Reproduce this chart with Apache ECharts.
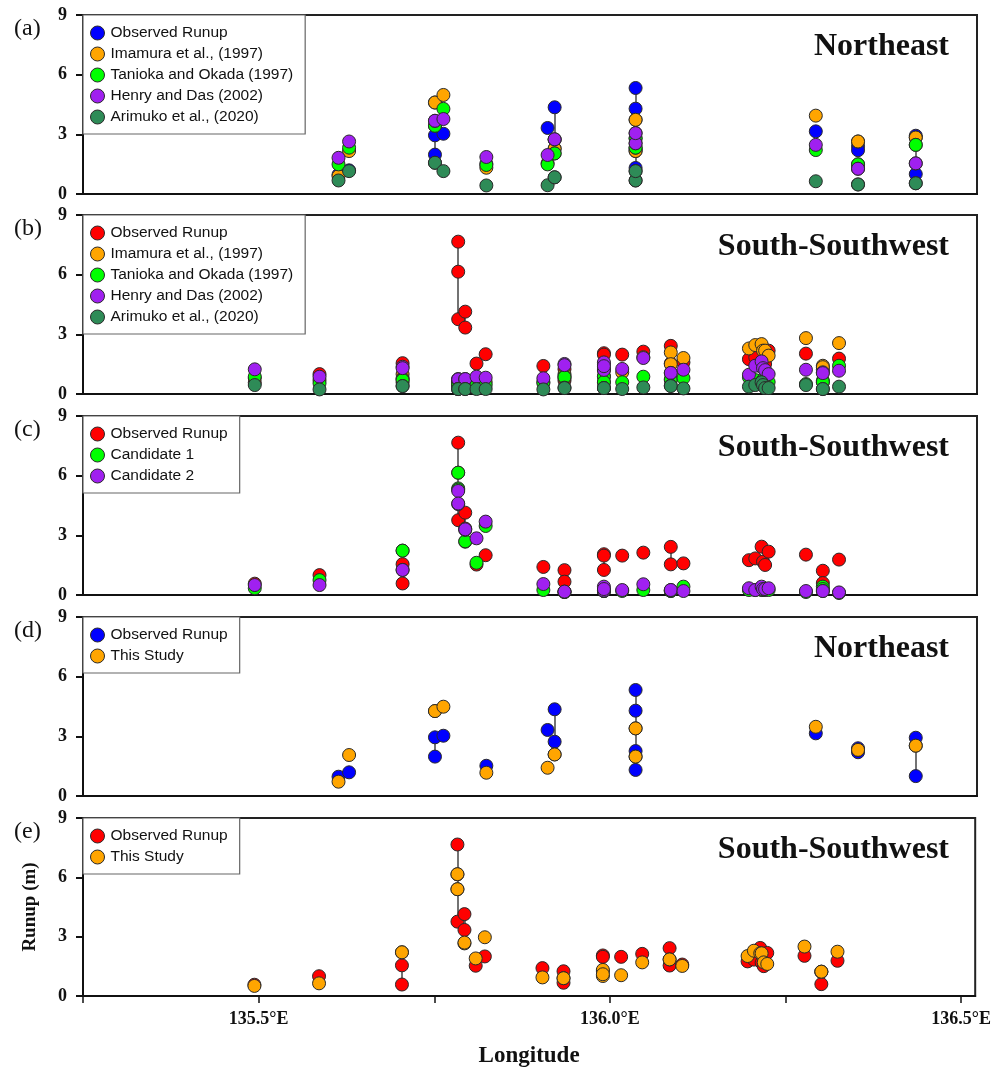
<!DOCTYPE html>
<html>
<head>
<meta charset="utf-8">
<script src="https://cdn.jsdelivr.net/npm/echarts@6/dist/echarts.min.js"></script>
<style>
html,body{margin:0;padding:0;background:#fff;}
#chart{width:994px;height:1069px;}
</style>
</head>
<body>
<div id="chart"></div>
<script>
// ---------- DATA ----------
// Northeast stations (longitude, deg E)
const neLon = [135.613,135.628,135.750,135.750,135.762,135.823,135.910,135.920,135.920,136.035,136.035,136.035,136.035,136.291,136.351,136.351,136.433,136.433];
const neObs = [0.97,1.19,2.95,1.98,3.03,1.52,3.32,4.36,2.73,5.33,4.29,2.26,1.31,3.15,2.40,2.20,2.93,1.00];
const neImamura = [0.90,2.16,4.60,4.60,4.98,1.32,1.55,2.28,2.28,3.73,2.16,2.16,3.73,3.94,2.64,2.64,2.84,2.84];
const neTanioka = [1.49,2.33,3.43,3.43,4.28,1.46,1.49,2.04,2.04,2.80,2.33,2.33,2.80,2.21,1.49,1.49,2.47,2.47];
const neHenry = [1.82,2.64,3.68,3.68,3.77,1.86,1.96,2.75,2.75,3.06,2.55,2.55,3.06,2.47,1.27,1.27,1.54,1.54];
const neArimuko = [0.68,1.15,1.57,1.57,1.15,0.43,0.44,0.84,0.84,1.15,0.68,0.68,1.15,0.64,0.48,0.48,0.54,0.54];
const neThisStudy = [0.72,2.06,4.27,4.27,4.49,1.17,1.42,2.09,2.09,3.40,1.98,1.98,3.40,3.48,2.32,2.32,2.53,2.53];

// South-Southwest stations
const sswLon = [135.494,135.586,135.704,135.704,135.783,135.783,135.783,135.793,135.793,135.809,135.822,135.904,135.934,135.934,135.990,135.990,135.990,136.016,136.046,136.085,136.085,136.103,136.196,136.205,136.214,136.216,136.219,136.224,136.277,136.301,136.301,136.324];
const sswObs = [0.57,1.00,1.55,0.58,7.66,6.15,3.76,4.14,3.34,1.53,2.00,1.41,1.25,0.67,2.05,1.98,1.26,1.98,2.13,2.42,1.54,1.59,1.75,1.84,2.43,1.68,1.51,2.18,2.03,1.22,0.60,1.78];
const sswImamura = [0.80,0.70,1.00,0.80,0.60,0.60,0.60,0.60,0.60,0.60,0.60,0.60,1.00,0.80,1.50,1.20,0.90,1.09,1.85,2.09,1.50,1.81,2.29,2.46,2.51,2.18,2.18,1.93,2.81,1.42,1.35,2.56];
const sswTanioka = [0.87,0.54,0.74,0.70,0.45,0.45,0.45,0.45,0.45,0.45,0.45,0.55,0.90,0.85,0.87,0.59,0.60,0.59,0.87,0.75,0.70,0.80,0.84,0.70,0.60,0.70,0.70,0.60,0.50,0.67,0.60,1.42];
const sswHenry = [1.24,0.87,1.37,1.30,0.74,0.74,0.74,0.75,0.75,0.87,0.82,0.79,1.51,1.45,1.59,1.21,1.40,1.26,1.81,1.06,1.06,1.22,0.97,1.42,1.64,1.30,1.20,1.00,1.22,1.09,1.05,1.17];
const sswArimuko = [0.45,0.23,0.40,0.40,0.25,0.25,0.25,0.25,0.25,0.25,0.25,0.23,0.32,0.30,0.30,0.30,0.30,0.25,0.33,0.42,0.40,0.28,0.37,0.45,0.59,0.45,0.30,0.30,0.45,0.25,0.25,0.37];
const sswCand1 = [0.34,0.75,2.23,2.23,6.15,5.36,5.30,2.68,2.70,1.62,3.47,0.25,0.15,0.15,0.20,0.20,0.20,0.20,0.25,0.20,0.20,0.42,0.25,0.25,0.25,0.25,0.25,0.25,0.15,0.42,0.30,0.10];
const sswCand2 = [0.50,0.50,1.26,1.26,5.23,4.57,4.60,3.27,3.30,2.85,3.69,0.55,0.17,0.17,0.42,0.22,0.30,0.25,0.54,0.25,0.25,0.20,0.34,0.25,0.42,0.30,0.30,0.34,0.20,0.20,0.20,0.13];
const sswThisStudy = [0.51,0.64,2.21,2.21,6.16,5.40,5.40,2.66,2.70,1.90,2.97,0.94,0.90,0.90,1.32,1.01,1.10,1.05,1.70,1.85,1.85,1.52,2.02,2.29,2.16,2.16,1.70,1.62,2.50,1.23,1.23,2.24];

const xTicks = [135.25,135.5,135.75,136.0,136.25,136.5];
const xLabels = [135.5,136.0,136.5];
const yTicks = [0,3,6,9];
const panelLetters = ['(a)','(b)','(c)','(d)','(e)'];
const regionNames = ['Northeast','South-Southwest','South-Southwest','Northeast','South-Southwest'];

// ---------- STYLE ----------
const C = {blue:'#0000ff', orange:'#ffa500', green:'#00ff00', purple:'#a020f0', dgreen:'#2e8b57', red:'#ff0000'};
const panelTops = [15,215,416,617,818];
const panelH = 179;
const serif = 'Liberation Serif, Times New Roman, serif';
const sans = 'Liberation Sans, Arial, sans-serif';

const panels = [
  {lon: neLon, obsColor: C.blue, obs: neObs, models: [
    ['Imamura et al., (1997)', C.orange, neImamura],
    ['Tanioka and Okada (1997)', C.green, neTanioka],
    ['Henry and Das (2002)', C.purple, neHenry],
    ['Arimuko et al., (2020)', C.dgreen, neArimuko]]},
  {lon: sswLon, obsColor: C.red, obs: sswObs, models: [
    ['Imamura et al., (1997)', C.orange, sswImamura],
    ['Tanioka and Okada (1997)', C.green, sswTanioka],
    ['Henry and Das (2002)', C.purple, sswHenry],
    ['Arimuko et al., (2020)', C.dgreen, sswArimuko]]},
  {lon: sswLon, obsColor: C.red, obs: sswObs, models: [
    ['Candidate 1', C.green, sswCand1],
    ['Candidate 2', C.purple, sswCand2]]},
  {lon: neLon, obsColor: C.blue, obs: neObs, models: [
    ['This Study', C.orange, neThisStudy]]},
  {lon: sswLon, obsColor: C.red, obs: sswObs, models: [
    ['This Study', C.orange, sswThisStudy]]}
];

const grids = [], xAxes = [], yAxes = [], series = [], legends = [], titles = [];

panels.forEach((p, i) => {
  const last = i === panels.length - 1;
  grids.push({left: 83, width: 894, top: panelTops[i], height: panelH,
    show: true, borderColor: '#222', borderWidth: 2, backgroundColor: 'transparent'});
  xAxes.push({gridIndex: i, type: 'value', min: 135.25, max: 136.52,
    axisLine: {show: true, onZero: false, lineStyle: {color: '#111', width: 2}},
    axisTick: {show: last, inside: false, length: 7, lineStyle: {color: '#111', width: 1.5}, customValues: xTicks},
    axisLabel: {show: last, customValues: xLabels, margin: 14, color: '#111',
      fontFamily: serif, fontWeight: 'bold', fontSize: 18,
      formatter: v => v.toFixed(1) + '°E'},
    splitLine: {show: false},
    name: last ? 'Longitude' : '', nameLocation: 'middle', nameGap: 49,
    nameTextStyle: {fontFamily: serif, fontWeight: 'bold', fontSize: 23, color: '#111'}
  });
  yAxes.push({gridIndex: i, type: 'value', min: 0, max: 9, interval: 3,
    axisLine: {show: true, onZero: false, lineStyle: {color: '#111', width: 2}},
    axisTick: {show: true, inside: false, length: 7, lineStyle: {color: '#111', width: 2}, customValues: yTicks},
    axisLabel: {margin: 16, color: '#111', fontFamily: serif, fontWeight: 'bold', fontSize: 18, customValues: yTicks},
    splitLine: {show: false},
    name: last ? 'Runup (m)' : '', nameLocation: 'middle', nameGap: 43, nameRotate: 90,
    nameTextStyle: {fontFamily: serif, fontWeight: 'bold', fontSize: 19, color: '#111'}
  });

  // connector lines between observed values at the same site
  const groups = {};
  p.lon.forEach((x, k) => { (groups[x] = groups[x] || []).push(p.obs[k]); });
  const segs = [];
  Object.keys(groups).forEach(x => {
    const v = groups[x];
    if (v.length > 1) segs.push({coords: [[+x, Math.min(...v)], [+x, Math.max(...v)]]});
  });
  series.push({type: 'lines', coordinateSystem: 'cartesian2d', xAxisIndex: i, yAxisIndex: i,
    data: segs, lineStyle: {color: '#444', width: 1.5, opacity: 1}, silent: true, z: 1});

  const mk = (name, color, vals) => ({
    name, type: 'scatter', xAxisIndex: i, yAxisIndex: i, symbol: 'circle', symbolSize: 13,
    itemStyle: {color, borderColor: '#2a2a2a', borderWidth: 1, opacity: 1},
    data: p.lon.map((x, k) => [x, vals[k]]), z: 2
  });
  series.push(mk('Observed Runup', p.obsColor, p.obs));
  p.models.forEach(m => series.push(mk(m[0], m[1], m[2])));

  const items = [['Observed Runup', p.obsColor]].concat(p.models.map(m => [m[0], m[1]]));
  legends.push({
    orient: 'vertical', left: 83, top: panelTops[i],
    backgroundColor: '#fff', borderColor: '#666', borderWidth: 1.2,
    padding: [10, 12, 9, 7], itemGap: 5, itemWidth: 14, itemHeight: 14, icon: 'circle',
    selectedMode: false,
    textStyle: {fontFamily: sans, fontSize: 15.5, color: '#111', padding: [0, 0, 0, 1]},
    data: items.map(it => ({name: it[0], itemStyle: {color: it[1], borderColor: '#2a2a2a', borderWidth: 1}}))
  });

  titles.push({text: panelLetters[i], left: 9, top: panelTops[i] - 3,
    textStyle: {fontFamily: serif, fontWeight: 'normal', fontSize: 24, color: '#111'}});
  titles.push({text: regionNames[i], right: 40, top: panelTops[i] + 11,
    textStyle: {fontFamily: serif, fontWeight: 'bold', fontSize: 32, color: '#111'}});
});

const chart = echarts.init(document.getElementById('chart'), null, {renderer: 'canvas'});
chart.setOption({
  animation: false,
  backgroundColor: '#fff',
  title: titles,
  legend: legends,
  grid: grids,
  xAxis: xAxes,
  yAxis: yAxes,
  series: series
});
</script>
</body>
</html>
